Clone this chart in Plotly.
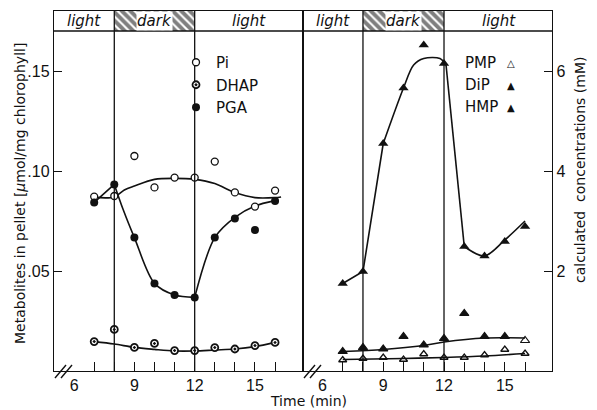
import plotly.graph_objects as go

# ---------------- data ----------------
time_min = [7, 8, 9, 10, 11, 12, 13, 14, 15, 16]

# left panel: metabolites in pellet (umol / mg chlorophyll)
pi_vals = [0.0872, 0.0875, 0.1075, 0.0918, 0.0967, 0.0967, 0.1047, 0.0893, 0.0822, 0.0902]
dhap_vals = [0.0147, 0.0208, 0.0118, 0.0138, 0.0102, 0.0102, 0.0117, 0.0110, 0.0127, 0.0143]
pga_vals = [0.0843, 0.0933, 0.0667, 0.0438, 0.0380, 0.0368, 0.0667, 0.0763, 0.0705, 0.0850]

# hand-drawn fitted curves
pi_fit_t = [7, 8, 8.5, 9, 10, 11, 12, 13, 14, 15, 16, 16.3]
pi_fit_v = [0.0868, 0.0870, 0.0905, 0.0925, 0.0958, 0.0963, 0.0958, 0.0937, 0.0892, 0.0867, 0.0867, 0.0870]
dhap_fit_t = [7, 8, 9, 10, 11, 12, 13, 14, 15, 16]
dhap_fit_v = [0.0147, 0.0135, 0.0118, 0.0108, 0.0100, 0.0100, 0.0105, 0.0110, 0.0122, 0.0143]
pga_fit1_t = [7, 8]
pga_fit1_v = [0.0843, 0.0933]
pga_fit2_t = [8, 8.45, 9, 10, 11, 12]
pga_fit2_v = [0.0933, 0.0805, 0.0667, 0.0438, 0.0380, 0.0368]
pga_fit3_t = [12, 13, 14, 15, 16]
pga_fit3_v = [0.0368, 0.0667, 0.0768, 0.0825, 0.0852]

# right panel: calculated concentrations (mM)
pmp_vals = [0.22, 0.25, 0.27, 0.23, 0.34, 0.27, 0.27, 0.32, 0.43, 0.35]
dip_vals = [0.39, 0.47, 0.44, 0.69, 0.52, 0.65, 1.15, 0.69, 0.69, 0.61]
hmp_vals = [1.75, 1.99, 4.55, 5.66, 6.52, 6.15, 2.49, 2.30, 2.59, 2.89]

pmp_fit_t = [7, 10, 12, 14, 16]
pmp_fit_v = [0.23, 0.25, 0.27, 0.30, 0.35]
dip_fit_t = [7, 9, 11, 12, 14, 16]
dip_fit_v = [0.39, 0.43, 0.51, 0.58, 0.66, 0.66]
hmp_fit1_t = [7, 8, 9]
hmp_fit1_v = [1.75, 1.99, 4.55]
hmp_fit2_t = [9, 10, 10.5, 11, 11.8, 12.1]
hmp_fit2_v = [4.55, 5.66, 6.12, 6.25, 6.25, 6.12]
hmp_fit3_t = [12.1, 13]
hmp_fit3_v = [6.12, 2.49]
hmp_fit4_t = [13, 14, 15, 16]
hmp_fit4_v = [2.49, 2.30, 2.62, 3.0]

x_tick_vals = [6, 9, 12, 15]
x_tick_text = ["6", "9", "12", "15"]
x_minor_vals = [7, 8, 9, 10, 11, 12, 13, 14, 15, 16]
left_tick_vals = [0.05, 0.10, 0.15]
left_tick_text = [".05", ".10", ".15"]
right_tick_vals = [2, 4, 6]
right_tick_text = ["2", "4", "6"]

phases = [("light", 5.0, 8), ("dark", 8, 12), ("light", 12, 17.39)]

# ---------------- styling ----------------
FONT = "DejaVu Sans"
TICKFONT = "Liberation Sans"
INK = "#111111"
W, H = 597, 410
ML, MR, MT, MB = 54, 45, 11, 39
PW, PH = W - ML - MR, H - MT - MB

LEFT_HDR = 0.17   # header band bottom (left units)
LEFT_TOP = 0.18
RIGHT_HDR = 6.8
RIGHT_TOP = 7.2

fig = go.Figure()

def line(xs, ys, ax, shape="spline"):
    fig.add_trace(go.Scatter(x=xs, y=ys, mode="lines", xaxis=ax[0], yaxis=ax[1],
                             line=dict(color=INK, width=1.6, shape=shape, smoothing=0.9),
                             showlegend=False, hoverinfo="skip"))

L = ("x", "y")
R = ("x2", "y2")

hatch = dict(color="white", line=dict(width=0),
             pattern=dict(shape="\\", fgcolor="black", bgcolor="white", size=6, solidity=0.65))
fig.add_trace(go.Bar(x=[10], y=[LEFT_TOP - LEFT_HDR], base=[LEFT_HDR], width=[4],
                     xaxis="x", yaxis="y", showlegend=False, hoverinfo="skip", marker=hatch))
fig.add_trace(go.Bar(x=[10], y=[RIGHT_TOP - RIGHT_HDR], base=[RIGHT_HDR], width=[4],
                     xaxis="x2", yaxis="y2", showlegend=False, hoverinfo="skip", marker=hatch))

# fitted lines
line(pi_fit_t, pi_fit_v, L)
line(dhap_fit_t, dhap_fit_v, L)
line(pga_fit1_t, pga_fit1_v, L, "linear")
line(pga_fit2_t, pga_fit2_v, L)
line(pga_fit3_t, pga_fit3_v, L)
line(pmp_fit_t, pmp_fit_v, R)
line(dip_fit_t, dip_fit_v, R)
line(hmp_fit1_t, hmp_fit1_v, R, "linear")
line(hmp_fit2_t, hmp_fit2_v, R)
line(hmp_fit3_t, hmp_fit3_v, R, "linear")
line(hmp_fit4_t, hmp_fit4_v, R)

# markers
fig.add_trace(go.Scatter(x=time_min, y=pi_vals, mode="markers", name="Pi", legendgroup="a",
                         marker=dict(symbol="circle", size=7, color="white",
                                     line=dict(color=INK, width=1.3))))
fig.add_trace(go.Scatter(x=time_min, y=dhap_vals, mode="markers", name="DHAP", legendgroup="b",
                         marker=dict(symbol="circle-dot", size=7, color="white",
                                     line=dict(color=INK, width=1.8))))
fig.add_trace(go.Scatter(x=time_min, y=pga_vals, mode="markers", name="PGA", legendgroup="c",
                         marker=dict(symbol="circle", size=8, color=INK,
                                     line=dict(color=INK, width=0))))
fig.add_trace(go.Scatter(x=time_min, y=pmp_vals, mode="markers", name="PMP", showlegend=False,
                         xaxis="x2", yaxis="y2",
                         marker=dict(symbol="triangle-up-open", size=7, color=INK,
                                     line=dict(color=INK, width=1.3))))
fig.add_trace(go.Scatter(x=time_min, y=dip_vals, mode="markers", name="DiP", showlegend=False,
                         xaxis="x2", yaxis="y2",
                         marker=dict(symbol=["triangle-up"] * 9 + ["triangle-up-open"],
                                     size=8, color=INK, line=dict(color=INK, width=1.2))))
fig.add_trace(go.Scatter(x=time_min, y=hmp_vals, mode="markers", name="HMP", showlegend=False,
                         xaxis="x2", yaxis="y2",
                         marker=dict(symbol="triangle-up", size=9, color=INK, line=dict(width=0))))

axis_common = dict(showline=True, linecolor=INK, linewidth=1.4, mirror=True,
                   showgrid=False, zeroline=False, automargin=False,
                   tickfont=dict(family=TICKFONT, size=16, color=INK))

xcommon = dict(axis_common, tickmode="array", tickvals=x_tick_vals, ticktext=x_tick_text,
               ticks="",
               minor=dict(tickmode="array", tickvals=x_minor_vals, ticks="inside",
                          ticklen=9, tickwidth=1.3, tickcolor=INK, showgrid=False))

fig.update_layout(
    width=W, height=H,
    margin=dict(l=ML, r=MR, t=MT, b=MB, autoexpand=False),
    paper_bgcolor="white", plot_bgcolor="white",
    font=dict(family=FONT, color=INK),
    barmode="overlay",
    xaxis=dict(xcommon, domain=[0, 0.5], range=[5.0, 17.39], anchor="y"),
    yaxis=dict(axis_common, domain=[0, 1], range=[0, LEFT_TOP], anchor="x",
               tickmode="array", tickvals=left_tick_vals, ticktext=left_tick_text,
               ticks="inside", ticklen=8, tickwidth=1.3, tickcolor=INK),
    xaxis2=dict(xcommon, domain=[0.5, 1], range=[5.04, 17.33], anchor="y2"),
    yaxis2=dict(axis_common, domain=[0, 1], range=[0, RIGHT_TOP], anchor="x2", side="right",
                tickmode="array", tickvals=right_tick_vals, ticktext=right_tick_text,
                ticks="inside", ticklen=8, tickwidth=1.3, tickcolor=INK),
    legend=dict(x=(176 - ML) / PW, y=(H - MB - 46) / PH, xanchor="left", yanchor="top",
                bgcolor="rgba(0,0,0,0)", font=dict(family=FONT, size=15, color=INK),
                traceorder="grouped", tracegroupgap=0, itemwidth=30),
    showlegend=True,
)

shapes = []
shapes.append(dict(type="line", xref="x domain", yref="y", x0=0, x1=1, y0=LEFT_HDR, y1=LEFT_HDR,
                   line=dict(color=INK, width=1.4)))
shapes.append(dict(type="line", xref="x2 domain", yref="y2", x0=0, x1=1, y0=RIGHT_HDR, y1=RIGHT_HDR,
                   line=dict(color=INK, width=1.4)))
for xr, yr in (("x", "y domain"), ("x2", "y2 domain")):
    for xv in (8, 12):
        shapes.append(dict(type="line", xref=xr, yref=yr, x0=xv, x1=xv, y0=0, y1=1,
                           line=dict(color=INK, width=1.3)))

def px(xp, yp):
    return (xp - ML) / PW, (H - MB - yp) / PH

for (xa, ya, xb, yb) in [(55, 378, 66, 365), (61, 378, 72, 365),
                         (304, 378, 315, 365), (310, 378, 321, 365)]:
    x0, y0 = px(xa, ya)
    x1, y1 = px(xb, yb)
    shapes.append(dict(type="line", xref="paper", yref="paper", x0=x0, y0=y0, x1=x1, y1=y1,
                       line=dict(color=INK, width=1.4)))
fig.update_layout(shapes=shapes)

ann = []
for xr, yr, yc in (("x", "y", (LEFT_HDR + LEFT_TOP) / 2), ("x2", "y2", (RIGHT_HDR + RIGHT_TOP) / 2)):
    for name, a, b in phases:
        ann.append(dict(xref=xr, yref=yr, x=(a + b) / 2, y=yc, text="<i>%s</i>" % name,
                        xanchor="center", yanchor="middle",
                        showarrow=False, font=dict(family=FONT, size=15, color=INK),
                        bgcolor="white" if name == "dark" else None, borderpad=0))

for i, (nm, sym) in enumerate([("PMP", "△"), ("DiP", "▲"), ("HMP", "▲")]):
    yv = 6.16 - i * 0.44
    ann.append(dict(xref="x2", yref="y2", x=12.94, y=yv, text=nm, xanchor="left", yanchor="middle",
                    showarrow=False, font=dict(family=FONT, size=15, color=INK)))
    ann.append(dict(xref="x2", yref="y2", x=15.31, y=yv, text=sym, xanchor="center", yanchor="middle",
                    showarrow=False, font=dict(family="DejaVu Sans", size=10, color=INK)))

ann.append(dict(xref="paper", yref="paper", x=px(20, 0)[0], y=px(0, 194)[1],
                xanchor="center", yanchor="middle",
                text="Metabolites in pellet [<i>μ</i>mol/mg chlorophyll]", textangle=-90,
                showarrow=False, font=dict(family=FONT, size=14, color=INK)))
ann.append(dict(xref="paper", yref="paper", x=px(580, 0)[0], y=px(0, 170)[1],
                xanchor="center", yanchor="middle",
                text="calculated  concentrations (mM)", textangle=-90,
                showarrow=False, font=dict(family=FONT, size=14, color=INK)))
ann.append(dict(xref="paper", yref="paper", x=px(308, 0)[0], y=px(0, 401)[1],
                xanchor="center", yanchor="middle",
                text="Time (min)", showarrow=False, font=dict(family=FONT, size=14, color=INK)))
fig.update_layout(annotations=ann)

fig.write_html("out.html", config={"displayModeBar": False},
               post_script="document.body.style.margin='0';document.body.style.padding='0';")
